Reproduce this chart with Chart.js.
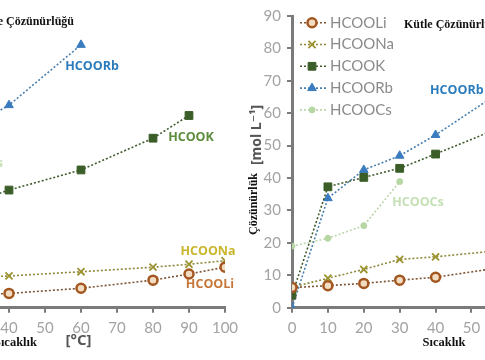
<!DOCTYPE html>
<html><head><meta charset="utf-8">
<script src="https://cdn.jsdelivr.net/npm/chart.js@4/dist/chart.umd.min.js"></script>
<style>
html,body{margin:0;padding:0;background:#fff;overflow:hidden;width:485px;height:360px;position:relative}
canvas{position:absolute;top:0}
#left{left:-155px}
#right{left:200px}
</style></head><body>
<canvas id="left" width="410" height="360"></canvas>
<canvas id="right" width="470" height="360"></canvas>
<script>
// ---------- data ----------
const seriesNames = ['HCOOLi','HCOONa','HCOOK','HCOORb','HCOOCs'];
const xTickStep = 10, xMin = 0, xMax = 100;
const yTickStep = 10, yMin = 0, yMax = 90;

// left panel (mass solubility), visible temperatures 30..100
const leftLiT = [30,40,60,80,90,100];
const leftLi  = [3.9,4.4,6.0,8.5,10.4,12.5];
const leftNaT = [30,40,60,80,90,100];
const leftNa  = [9.3,9.8,11.1,12.5,13.4,14.5];
const leftKT  = [30,40,60,80,90];
const leftK   = [32.5,36.3,42.5,52.3,59.3];
const leftRbT = [30,40,60];
const leftRb  = [56.0,62.5,81.1];

// right panel (molar solubility, mol/L)
const rightT   = [0,10,20,30,40,60];
const rightLi  = [6.2,6.8,7.5,8.5,9.4,12.7];
const rightNa  = [6.3,9.1,11.8,14.9,15.7,17.9];
const rightK   = [3.9,37.3,40.2,43.0,47.4,56.5];
const rightRb  = [0.0,33.8,42.5,46.9,53.3,68.0];
const rightCsT = [0,10,20,30];
const rightCs  = [19.0,21.4,25.3,38.9];

// ---------- styles ----------
const STY = {
  HCOOLi:{line:'#7e5535', pt:'circle',   r:4.5, bw:2.5, bc:'#a3561f', bg:'#f2dcc2'},
  HCOONa:{line:'#8f883c', pt:'crossRot', r:5,   bw:1.8, bc:'#9c9330', bg:'#9c9330'},
  HCOOK: {line:'#3f5b2e', pt:'rect',     r:5.5, bw:1,   bc:'#3b5e28', bg:'#3b5e28'},
  HCOORb:{line:'#4a7fae', pt:'triangle', r:5,   bw:1,   bc:'#3a7cbf', bg:'#3a7cbf'},
  HCOOCs:{line:'#bcd6ad', pt:'circle',   r:3,   bw:1,   bc:'#b6d6a4', bg:'#b6d6a4'}
};
const LABEL_COL = {HCOOLi:'#c8773a', HCOONa:'#c9b62c', HCOOK:'#5d8c3c', HCOORb:'#2b7cbc', HCOOCs:'#c6e0b6'};

function pts(xs, ys){ return xs.map((x,i)=>({x:x, y:ys[i]})); }
function ds(name, xs, ys){
  const s = STY[name];
  return {label:name, data:pts(xs,ys), borderColor:s.line, borderWidth:1.6, borderDash:[2,2],
    pointStyle:s.pt, pointRadius:s.r, pointBorderWidth:s.bw, pointBorderColor:s.bc,
    pointBackgroundColor:s.bg, pointHoverRadius:s.r, tension:0, fill:false};
}
const TICKFONT = {family:'Lato, "Open Sans", sans-serif', size:15};
const TICKCOL = '#a3a3a3', AXCOL = '#7b7b7b';
function axisCommon(){
  return {
    grid:{display:true, drawOnChartArea:false, drawTicks:true, tickLength:5, color:AXCOL, lineWidth:2},
    border:{display:true, color:AXCOL, width:3}
  };
}
function scales(showY){
  return {
    x:Object.assign({type:'linear', min:xMin, max:xMax,
      ticks:{stepSize:xTickStep, color:TICKCOL, font:TICKFONT, padding:6, maxRotation:0},
      afterFit(s){ s.height = 52.3; }}, axisCommon()),
    y:Object.assign({type:'linear', display:showY, min:yMin, max:yMax,
      ticks:{stepSize:yTickStep, color:TICKCOL, font:TICKFONT, padding:6},
      afterFit(s){ s.width = showY ? 92 : 0; }}, axisCommon())
  };
}
function textPlugin(offsetX, items, legend){
  return {id:'txt'+offsetX, afterDraw(chart){
    const ctx = chart.ctx;
    ctx.save();
    items.forEach(it=>{
      ctx.save();
      ctx.font = it.font; ctx.fillStyle = it.color;
      ctx.textAlign = it.align || 'center'; ctx.textBaseline = 'middle';
      ctx.translate(it.x - offsetX, it.y);
      if (it.rot) ctx.rotate(it.rot);
      ctx.fillText(it.t, 0, 0);
      ctx.restore();
    });
    if (legend){
      chart.data.datasets.forEach((d,i)=>{
        const y = 22.7 + i*21.8;
        ctx.save();
        ctx.strokeStyle = d.borderColor; ctx.lineWidth = 1.6; ctx.setLineDash([2,2]);
        ctx.beginPath(); ctx.moveTo(300-offsetX, y); ctx.lineTo(327-offsetX, y); ctx.stroke();
        ctx.setLineDash([]);
        ctx.strokeStyle = d.pointBorderColor; ctx.fillStyle = d.pointBackgroundColor;
        ctx.lineWidth = d.pointBorderWidth;
        Chart.helpers.drawPoint(ctx, {pointStyle:d.pointStyle, radius:d.pointRadius, borderWidth:d.pointBorderWidth, rotation:0}, 312-offsetX, y);
        ctx.fillStyle = '#8a8a8a'; ctx.font = '15px Lato, "Open Sans", sans-serif';
        ctx.textAlign = 'left'; ctx.textBaseline = 'middle';
        ctx.fillText(d.label, 330-offsetX, y);
        ctx.restore();
      });
    }
    ctx.restore();
  }};
}
const SERIF = 'bold 12px "Liberation Serif", "DejaVu Serif", serif';
const LBL = 'bold 12.5px "Open Sans", sans-serif';

// ---------- left chart ----------
new Chart(document.getElementById('left'), {
  type:'line',
  data:{datasets:[ds('HCOOLi',leftLiT,leftLi), ds('HCOONa',leftNaT,leftNa), ds('HCOOK',leftKT,leftK), ds('HCOORb',leftRbT,leftRb)]},
  options:{responsive:false, animation:false, devicePixelRatio:1,
    layout:{padding:{left:20, right:30, top:16, bottom:0}},
    plugins:{legend:{display:false}, tooltip:{enabled:false}},
    scales:scales(false)},
  plugins:[textPlugin(-155, [
    {t:'Kütle Çözünürlüğü', x:74, y:22, font:SERIF, color:'#111', align:'right'},
    {t:'Sıcaklık', x:37, y:343, font:'bold 12.5px "Liberation Serif", serif', color:'#111', align:'right'},
    {t:'[°C]', x:78.5, y:341, font:'bold 15px "Open Sans", sans-serif', color:'#555'},
    {t:'HCOORb', x:92, y:66, font:LBL, color:LABEL_COL.HCOORb},
    {t:'HCOOK', x:191, y:137, font:LBL, color:LABEL_COL.HCOOK},
    {t:'HCOONa', x:208, y:251, font:LBL, color:LABEL_COL.HCOONa},
    {t:'HCOOLi', x:210, y:284, font:LBL, color:LABEL_COL.HCOOLi},
    {t:'HCOOCs', x:3, y:163, font:LBL, color:LABEL_COL.HCOOCs, align:'right'}
  ], false)]
});

// ---------- right chart ----------
new Chart(document.getElementById('right'), {
  type:'line',
  data:{datasets:[ds('HCOOLi',rightT,rightLi), ds('HCOONa',rightT,rightNa), ds('HCOOK',rightT,rightK), ds('HCOORb',rightT,rightRb), ds('HCOOCs',rightCsT,rightCs)]},
  options:{responsive:false, animation:false, devicePixelRatio:1,
    layout:{padding:{left:0, right:18, top:16, bottom:0}},
    plugins:{legend:{display:false}, tooltip:{enabled:false}},
    scales:scales(true)},
  plugins:[textPlugin(200, [
    {t:'Kütle Çözünürlüğü', x:404, y:25, font:SERIF, color:'#111', align:'left'},
    {t:'Sıcaklık', x:444, y:343, font:'bold 12.5px "Liberation Serif", serif', color:'#111'},
    {t:'Çözünürlük', x:253.5, y:204, font:SERIF, color:'#111', rot:-Math.PI/2},
    {t:'[mol L⁻¹]', x:257, y:135, font:'bold 14px "Open Sans", "DejaVu Sans", sans-serif', color:'#555', rot:-Math.PI/2},
    {t:'HCOORb', x:430, y:90, font:LBL, color:LABEL_COL.HCOORb, align:'left'},
    {t:'HCOOCs', x:418, y:202, font:LBL, color:LABEL_COL.HCOOCs}
  ], true)]
});
</script>
</body></html>
